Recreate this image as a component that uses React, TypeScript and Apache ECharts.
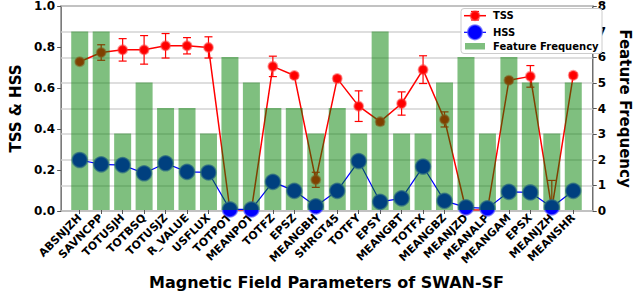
import React, { useEffect, useRef } from "react";
import * as echarts from "echarts";

const categories = [
  "ABSNJZH", "SAVNCPP", "TOTUSJH", "TOTBSQ", "TOTUSJZ", "R_VALUE", "USFLUX", "TOTPOT",
  "MEANPOT", "TOTFZ", "EPSZ", "MEANGBH", "SHRGT45", "TOTFY", "EPSY", "MEANGBT",
  "TOTFX", "MEANGBZ", "MEANJZD", "MEANALP", "MEANGAM", "EPSX", "MEANJZH", "MEANSHR",
];
const tss = [0.727, 0.772, 0.785, 0.785, 0.805, 0.805, 0.797, 0.0, 0.0, 0.704, 0.659, 0.148,
  0.644, 0.509, 0.433, 0.522, 0.688, 0.444, 0.0, 0.0, 0.636, 0.655, 0.005, 0.66];
const tssErr = [0.008, 0.038, 0.055, 0.07, 0.06, 0.04, 0.052, 0, 0, 0.05, 0.012, 0.037,
  0.012, 0.075, 0.015, 0.057, 0.068, 0.037, 0, 0, 0.012, 0.053, 0.14, 0.012];
const hss = [0.245, 0.224, 0.22, 0.18, 0.229, 0.187, 0.184, 0.003, 0.003, 0.138, 0.094, 0.018,
  0.094, 0.24, 0.04, 0.057, 0.213, 0.045, 0.013, 0.008, 0.089, 0.086, 0.013, 0.094];
const freq = [7, 7, 3, 5, 4, 4, 3, 6, 5, 4, 4, 3, 4, 3, 7, 3, 3, 5, 6, 3, 6, 5, 3, 5];
const leftTicks = [0, 0.2, 0.4, 0.6, 0.8, 1.0];
const rightTicks = [0, 1, 2, 3, 4, 5, 6, 7, 8];

const FONT = "DejaVu Sans";

export default function App() {
  const ref = useRef<HTMLDivElement>(null);
  useEffect(() => {
    document.body.style.margin = "0";
    const chart = echarts.init(ref.current!, null, { renderer: "svg" });
    const bold = (size: number) => ({ fontFamily: FONT, fontWeight: "bold", fontSize: size, color: "#000" });
    const L = { zlevel: 1, z: 10 };
    const option: any = {
      animation: false,
      grid: [
        { left: 46, right: 33, top: 6, bottom: 84, show: true, borderColor: "#6e6e6e", borderWidth: 1.5, backgroundColor: "transparent" },
        { left: 69, right: 56, top: 6, bottom: 84 },
      ],
      xAxis: [
        { gridIndex: 0, type: "value", min: 0, max: 1, show: false },
        {
          gridIndex: 1, type: "category", data: categories, boundaryGap: true,
          axisLine: { show: false },
          axisTick: { show: true, alignWithLabel: true, length: 4, lineStyle: { color: "#555", width: 1 } },
          axisLabel: { ...bold(11), rotate: 45, interval: 0, margin: 6 },
          name: "Magnetic Field Parameters of SWAN-SF", nameLocation: "middle", nameGap: 64,
          nameTextStyle: bold(16),
        },
      ],
      yAxis: [
        {
          gridIndex: 0, type: "value", position: "left", min: leftTicks[0], max: leftTicks[leftTicks.length - 1], interval: 0.2,
          axisLine: { show: false },
          axisTick: { show: true, length: 4, lineStyle: { color: "#555" } },
          axisLabel: { ...bold(12), margin: 6, formatter: (v: number) => v.toFixed(1) },
          splitLine: { show: false },
          name: "TSS & HSS", nameLocation: "middle", nameGap: 33, nameTextStyle: bold(15),
        },
        {
          gridIndex: 0, type: "value", position: "right", min: rightTicks[0], max: rightTicks[rightTicks.length - 1], interval: 1,
          axisLine: { show: false },
          axisTick: { show: true, length: 4, lineStyle: { color: "#555" } },
          axisLabel: { ...bold(12), margin: 5 },
          splitLine: { show: true, lineStyle: { color: "#d3d3d3", width: 1.5 } },
          name: "Feature Frequency", nameLocation: "middle", nameRotate: -90, nameGap: 16, nameTextStyle: bold(15),
        },
        { gridIndex: 1, type: "value", min: 0, max: 1, show: false },
        { gridIndex: 1, type: "value", min: 0, max: 8, show: false },
      ],
      series: [
        {
          name: "TSS", type: "line", xAxisIndex: 1, yAxisIndex: 2, data: tss, z: 2,
          lineStyle: { color: "red", width: 1.5 },
          symbol: "circle", symbolSize: 9,
          itemStyle: { color: "red", borderColor: "rgba(255,60,60,0.5)", borderWidth: 2 },
        },
        {
          name: "TSS err", type: "custom", xAxisIndex: 1, yAxisIndex: 2, z: 2,
          data: tss.map((v, i) => [i, v, tssErr[i]]),
          encode: { x: 0, y: 1 },
          renderItem: (params: any, api: any) => {
            const i = api.value(0);
            const v = api.value(1);
            const e = api.value(2);
            if (!e) return null;
            const loRaw = v - e;
            const lo = Math.max(0, loRaw);
            const hi = v + e;
            const pHi = api.coord([i, hi]);
            const pLo = api.coord([i, lo]);
            const w = 4;
            const style = { stroke: "red", lineWidth: 1.2 };
            const children: any[] = [
              { type: "line", shape: { x1: pHi[0], y1: pHi[1], x2: pLo[0], y2: pLo[1] }, style },
              { type: "line", shape: { x1: pHi[0] - w, y1: pHi[1], x2: pHi[0] + w, y2: pHi[1] }, style },
            ];
            if (loRaw >= 0) {
              children.push({ type: "line", shape: { x1: pLo[0] - w, y1: pLo[1], x2: pLo[0] + w, y2: pLo[1] }, style });
            }
            return { type: "group", children };
          },
        },
        {
          name: "HSS", type: "line", xAxisIndex: 1, yAxisIndex: 2, data: hss, z: 2,
          lineStyle: { color: "blue", width: 1.2 },
          symbol: "circle", symbolSize: 15,
          itemStyle: { color: "blue", borderColor: "rgba(90,90,255,0.7)", borderWidth: 1.5 },
        },
        {
          name: "Feature Frequency", type: "bar", xAxisIndex: 1, yAxisIndex: 3, data: freq, z: 5,
          barWidth: 17,
          itemStyle: { color: "rgba(0,128,0,0.5)" },
        },
      ],
      graphic: [
        { type: "rect", ...L, shape: { x: 461, y: 8.5, width: 141, height: 45, r: 3 }, style: { fill: "#ffffff", stroke: "#cccccc", lineWidth: 1 } },
        { type: "line", ...L, shape: { x1: 464, y1: 15.7, x2: 486, y2: 15.7 }, style: { stroke: "red", lineWidth: 1.5 } },
        { type: "line", ...L, shape: { x1: 475, y1: 11.5, x2: 475, y2: 20 }, style: { stroke: "red", lineWidth: 1.2 } },
        { type: "line", ...L, shape: { x1: 471, y1: 11.5, x2: 479, y2: 11.5 }, style: { stroke: "red", lineWidth: 1.2 } },
        { type: "line", ...L, shape: { x1: 471, y1: 20, x2: 479, y2: 20 }, style: { stroke: "red", lineWidth: 1.2 } },
        { type: "circle", ...L, z: 11, shape: { cx: 475, cy: 15.7, r: 4.5 }, style: { fill: "red", stroke: "rgba(255,60,60,0.5)", lineWidth: 2 } },
        { type: "line", ...L, shape: { x1: 464, y1: 32.3, x2: 486, y2: 32.3 }, style: { stroke: "blue", lineWidth: 1.2 } },
        { type: "circle", ...L, z: 11, shape: { cx: 475, cy: 32.3, r: 7.3 }, style: { fill: "blue", stroke: "rgba(90,90,255,0.7)", lineWidth: 1.5 } },
        { type: "rect", ...L, shape: { x: 465, y: 43, width: 20, height: 6.5 }, style: { fill: "rgba(0,128,0,0.5)" } },
        { type: "text", ...L, z: 12, x: 493, y: 15.7, style: { text: "TSS", font: `bold 10px '${FONT}'`, fill: "#000", verticalAlign: "middle" } },
        { type: "text", ...L, z: 12, x: 493, y: 32.3, style: { text: "HSS", font: `bold 10px '${FONT}'`, fill: "#000", verticalAlign: "middle" } },
        { type: "text", ...L, z: 12, x: 493, y: 46.3, style: { text: "Feature Frequency", font: `bold 10px '${FONT}'`, fill: "#000", verticalAlign: "middle" } },
      ],
    };
    chart.setOption(option);
    return () => chart.dispose();
  }, []);
  return <div ref={ref} style={{ width: 640, height: 295 }} />;
}
